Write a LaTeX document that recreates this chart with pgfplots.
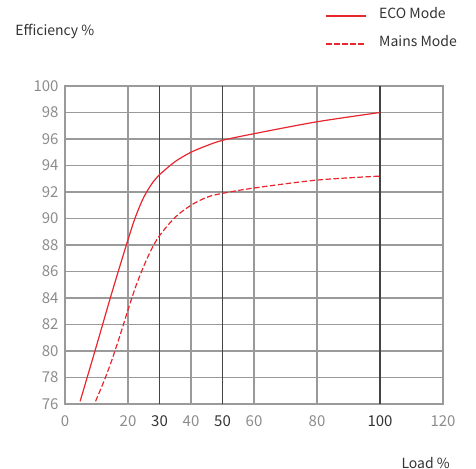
\documentclass[border=0pt]{standalone}
\usepackage{pgfplots}
\pgfplotsset{compat=1.18}
\usepackage{fontspec}
\setmainfont{Noto Sans CJK SC}
\definecolor{ecored}{HTML}{E8262D}
\definecolor{tickgray}{HTML}{8C8C8C}
\definecolor{griddark}{HTML}{444444}
\definecolor{gridlight}{HTML}{9A9A9A}
\definecolor{textdark}{HTML}{333333}
\begin{document}
\begin{tikzpicture}
\path[use as bounding box] (-65bp,-65bp) rectangle (411bp,404bp);
\begin{axis}[
  scale only axis,
  width=378bp, height=318bp,
  xmin=0, xmax=120, ymin=76, ymax=100,
  xtick={0,20,40,60,80,120},
  ytick distance=2,
  extra x ticks={30,50,100},
  extra x tick style={
    grid style={griddark, line width=1.1bp},
    xticklabel style={text=textdark},
  },
  grid=major,
  grid style={gridlight, line width=1.1bp},
  axis line style={gridlight, line width=1.1bp},
  major tick length=0pt,
  /pgf/number format/assume math mode=true,
  tick label style={font=\fontsize{15bp}{17bp}\selectfont, text=tickgray},
  xticklabel style={yshift=-8bp},
  yticklabel style={xshift=-3bp},
  clip=false,
]
% ECO Mode
\addplot[ecored, line width=1.2bp, smooth, tension=0.5] coordinates {
  (4.8,76.2) (10,80.4) (15,84.5) (20,88.4) (22.5,90.2) (25,91.6)
  (27.5,92.6) (30,93.3) (35,94.3) (40,95.0) (45,95.5) (50,95.9)
  (60,96.4) (80,97.3) (100,98.0)
};
% Mains Mode
\addplot[ecored, line width=1.2bp, smooth, tension=0.5, dash pattern=on 5.5bp off 2.5bp] coordinates {
  (9.7,76.2) (12.5,77.8) (15,79.4) (17.5,81.2) (20,83.1) (22.5,84.9)
  (25,86.4) (27.5,87.7) (30,88.7) (35,90.1) (40,91.0) (45,91.6)
  (50,91.9) (60,92.3) (80,92.9) (100,93.2)
};
% legend
\draw[ecored, line width=1.2bp] (axis description cs:0.6905,1.2201) -- (axis description cs:0.7963,1.2201);
\draw[ecored, line width=1.2bp, dash pattern=on 5.5bp off 2.5bp] (axis description cs:0.6905,1.1321) -- (axis description cs:0.7963,1.1321);
\node[anchor=mid west, text=textdark, font=\fontsize{14bp}{16bp}\selectfont, inner sep=0pt]
  at (axis description cs:0.8307,1.2201) {ECO Mode};
\node[anchor=mid west, text=textdark, font=\fontsize{14bp}{16bp}\selectfont, inner sep=0pt]
  at (axis description cs:0.8307,1.1321) {Mains Mode};
\node[anchor=west, text=textdark, font=\fontsize{14bp}{16bp}\selectfont, inner sep=0pt]
  at (axis description cs:-0.132,1.173) {Efficiency \%};
\node[anchor=east, text=textdark, font=\fontsize{14bp}{16bp}\selectfont, inner sep=0pt]
  at (axis description cs:1.0185,-0.1855) {Load \%};
\end{axis}
\end{tikzpicture}
\end{document}
